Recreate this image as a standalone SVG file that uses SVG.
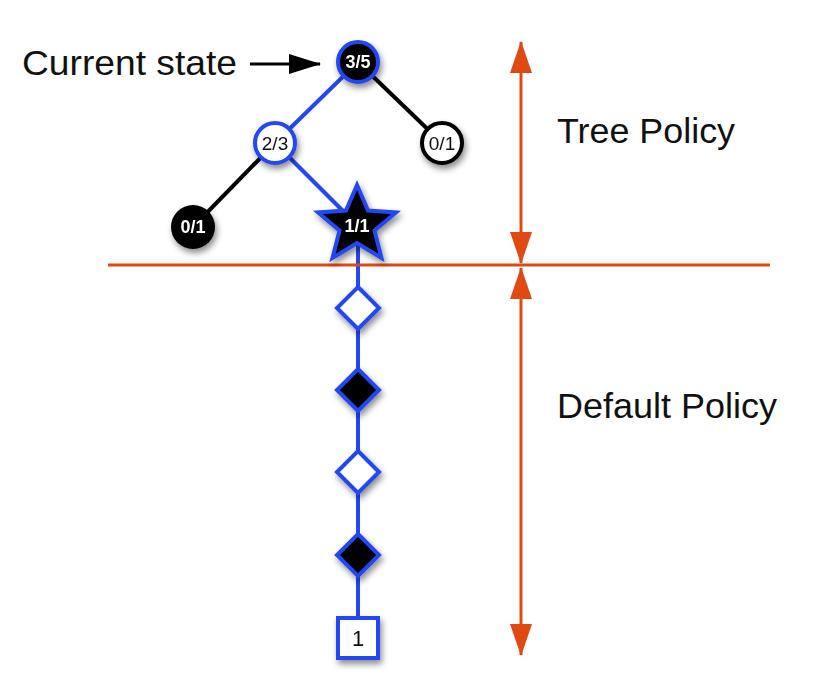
<svg xmlns="http://www.w3.org/2000/svg" width="821" height="683" viewBox="0 0 821 683">
<defs>
<filter id="sh" x="-50%" y="-50%" width="200%" height="200%">
<feDropShadow dx="2" dy="4" stdDeviation="3" flood-color="#000" flood-opacity="0.45"/>
</filter>
<marker id="oa" viewBox="0 0 32 22" refX="31" refY="11" markerWidth="32" markerHeight="22" markerUnits="userSpaceOnUse" orient="auto">
<path d="M0,0 L32,11 L0,22 Z" fill="#e04a12"/>
</marker>
<marker id="ba" viewBox="0 0 32 20" refX="31" refY="10" markerWidth="32" markerHeight="20" markerUnits="userSpaceOnUse" orient="auto">
<path d="M0,0 L32,10 L0,20 Z" fill="#000"/>
</marker>
<style>
.lbl{font-family:"Liberation Sans",Arial,sans-serif;font-size:35px;fill:#111}
.nt{font-family:"Liberation Sans",Arial,sans-serif;font-size:19px;text-anchor:middle;dominant-baseline:central}
.wb{fill:#fff;font-weight:bold;font-size:18px}
.bk{fill:#111}
.big{font-size:22px}
.blue{stroke:#2447f5;stroke-width:4;fill:none}
.black{stroke:#000;stroke-width:4;fill:none}
.orange{stroke:#e04a12;stroke-width:3;fill:none}
</style>
</defs>
<g id="connectors">
<line class="blue" x1="358" y1="62" x2="275" y2="143"/>
<line class="black" x1="358" y1="62" x2="442" y2="143"/>
<line class="black" x1="275" y1="143" x2="193" y2="227"/>
<line class="blue" x1="275" y1="143" x2="357" y2="225"/>
<line class="blue" x1="358" y1="225" x2="358" y2="637"/>
<line class="orange" x1="108" y1="265" x2="770" y2="265"/>
<line class="orange" x1="521" y1="150" x2="521" y2="42" marker-end="url(#oa)"/>
<line class="orange" x1="521" y1="150" x2="521" y2="263" marker-end="url(#oa)"/>
<line class="orange" x1="521" y1="450" x2="521" y2="268" marker-end="url(#oa)"/>
<line class="orange" x1="521" y1="450" x2="521" y2="655" marker-end="url(#oa)"/>
<line stroke="#000" stroke-width="3" x1="250" y1="64" x2="320" y2="64" marker-end="url(#ba)"/>
</g>
<g id="label-current"><text class="lbl" x="22" y="75" textLength="215" lengthAdjust="spacingAndGlyphs">Current state</text></g>
<g id="label-tree"><text class="lbl" x="557" y="143" textLength="178" lengthAdjust="spacingAndGlyphs">Tree Policy</text></g>
<g id="label-default"><text class="lbl" x="557" y="418" textLength="220" lengthAdjust="spacingAndGlyphs">Default Policy</text></g>
<g id="n35" filter="url(#sh)">
<circle cx="358" cy="62" r="20" fill="#000" stroke="#2447f5" stroke-width="4"/>
<text class="nt wb" x="358" y="62">3/5</text>
</g>
<g id="n23" filter="url(#sh)">
<circle cx="275" cy="143" r="20" fill="#fff" stroke="#2447f5" stroke-width="4"/>
<text class="nt bk" x="275" y="143">2/3</text>
</g>
<g id="n01r" filter="url(#sh)">
<circle cx="442" cy="143" r="20" fill="#fff" stroke="#000" stroke-width="4"/>
<text class="nt bk" x="442" y="143">0/1</text>
</g>
<g id="n01l" filter="url(#sh)">
<circle cx="193" cy="227" r="22" fill="#000"/>
<text class="nt wb" x="193" y="227">0/1</text>
</g>
<g id="n11" filter="url(#sh)">
<path d="M357,185 L368,210.5 L396,212.5 L374.5,230.5 L381.5,258 L357,243 L332.5,258 L339.5,230.5 L318,212.5 L346,210.5 Z" fill="#000" stroke="#2447f5" stroke-width="4" stroke-linejoin="miter"/>
<text class="nt wb" x="357" y="226">1/1</text>
</g>
<g id="d1" filter="url(#sh)"><path d="M358,287 L379,308 L358,329 L337,308 Z" fill="#fff" stroke="#2447f5" stroke-width="4"/></g>
<g id="d2" filter="url(#sh)"><path d="M358,369 L379,390 L358,411 L337,390 Z" fill="#000" stroke="#2447f5" stroke-width="4"/></g>
<g id="d3" filter="url(#sh)"><path d="M358,451 L379,472 L358,493 L337,472 Z" fill="#fff" stroke="#2447f5" stroke-width="4"/></g>
<g id="d4" filter="url(#sh)"><path d="M358,534 L379,555 L358,576 L337,555 Z" fill="#000" stroke="#2447f5" stroke-width="4"/></g>
<g id="term" filter="url(#sh)">
<rect x="338" y="618" width="40" height="40" fill="#fff" stroke="#2447f5" stroke-width="4"/>
<text class="nt bk big" x="358" y="638">1</text>
</g>
</svg>
